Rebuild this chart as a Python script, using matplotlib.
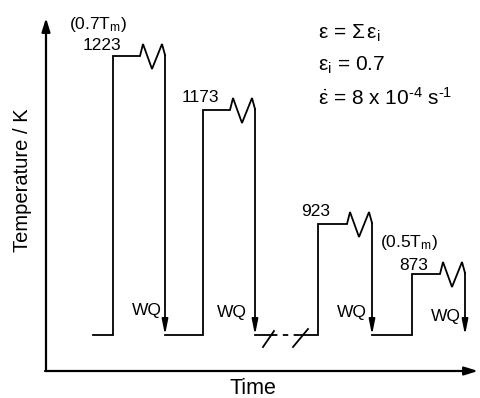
import matplotlib
matplotlib.use("Agg")
import matplotlib.pyplot as plt

plt.rcParams['font.family'] = ['Liberation Sans', 'DejaVu Sans']
plt.rcParams['mathtext.fontset'] = 'custom'
plt.rcParams['mathtext.rm'] = 'Liberation Sans'
plt.rcParams['mathtext.it'] = 'Liberation Sans:italic'

# ---- schematic data (time units, schematic temperature level) ----
temps = [1223, 1173, 923, 873]          # holding temperatures (K)
levels = [315, 261, 147, 97]            # schematic plateau heights
rise_t = [67, 157, 272, 366]            # time at which heating step occurs
hold_t = [27, 27, 29, 28]               # holding time before deformation
deform_dx = [0, 3, 12, 22, 25]          # zig-zag (deformation) time offsets
deform_dy = [0, 12, -13, 12, 1]         # zig-zag level offsets
base = 36                               # quench (room) temperature level
start_t = 47
break_t = [226, 254]                    # dashed time-break on baseline
homolog = ["(0.7T$_{\\mathregular{m}}$)", None, None, "(0.5T$_{\\mathregular{m}}$)"]

fig = plt.figure(figsize=(4.81, 3.98), dpi=100)
ax = fig.add_axes([0, 0, 1, 1])
ax.set_xlim(-46, 435)
ax.set_ylim(-27, 371)
ax.axis('off')

lw = 1.3
col = 'black'

# axes arrows
ax.annotate('', xy=(0, 353), xytext=(0, 0),
            arrowprops=dict(arrowstyle='-|>,head_length=0.8,head_width=0.25',
                            lw=1.6, color=col, shrinkA=0, shrinkB=0, mutation_scale=10))
ax.annotate('', xy=(432, 0), xytext=(-1, 0),
            arrowprops=dict(arrowstyle='-|>,head_length=0.8,head_width=0.25',
                            lw=1.6, color=col, shrinkA=0, shrinkB=0, mutation_scale=10))

prev_end = start_t
for i, (lev, rt, ht) in enumerate(zip(levels, rise_t, hold_t)):
    xs, ys = [], []
    if i == 2:
        # baseline with time break
        ax.plot([prev_end, break_t[0]], [base, base], color=col, lw=lw)
        ax.plot(break_t, [base, base], color=col, lw=lw, ls=(0, (3, 3)))
        xs += [break_t[1], rt]
        ys += [base, base]
        ax.plot([break_t[0] - 9, break_t[0] + 2], [base - 12, base + 4], color=col, lw=lw)
        ax.plot([break_t[1] - 7, break_t[1] + 8], [base - 12, base + 6], color=col, lw=lw)
    else:
        xs += [prev_end, rt]
        ys += [base, base]
    zx = rt + ht
    xs += [rt, zx]
    ys += [lev, lev]
    xs += [zx + d for d in deform_dx[1:]]
    ys += [lev + d for d in deform_dy[1:]]
    ax.plot(xs, ys, color=col, lw=lw, solid_joinstyle='miter')
    end_x = zx + deform_dx[-1]
    ax.annotate('', xy=(end_x, base), xytext=(end_x, lev + deform_dy[-1]),
                arrowprops=dict(arrowstyle='-|>,head_length=0.9,head_width=0.18',
                                lw=lw, color=col, shrinkA=0, shrinkB=0, mutation_scale=10))
    prev_end = end_x

# temperature labels
lab_pos = [(75, 326), (173, 273), (284, 159), (382, 106)]
for t, (lx, ly) in zip(temps, lab_pos):
    ax.text(lx, ly, str(t), fontsize=12.5, ha='right', va='center')
ax.text(52, 347, homolog[0], fontsize=12.5, ha='center', va='center')
ax.text(363, 128, homolog[3], fontsize=12.5, ha='center', va='center')

# WQ labels
wq_pos = [(101, 61), (186, 59), (306, 58), (400, 55)]
for wx, wy in wq_pos:
    ax.text(wx, wy, 'WQ', fontsize=12.5, ha='center', va='center')

# equations
ax.text(272, 338, "ε = Σ$\\,$ε$_{\\mathregular{i}}$", fontsize=15, ha='left', va='center')
ax.text(272, 306, "ε$_{\\mathregular{i}}$ = 0.7", fontsize=15, ha='left', va='center')
ax.text(272, 273, "$\\dot{\\mathrm{ε}}$ = 8 x 10$^{\\mathregular{\u2010}\\mathregular{4}}$ s$^{\\mathregular{\u2010}\\mathregular{1}}$",
        fontsize=15, ha='left', va='center')

# axis labels
ax.text(-24, 191, 'Temperature / K', fontsize=14.5, rotation=90, ha='center', va='center')
ax.text(207, -17, 'Time', fontsize=15.5, ha='center', va='center')

fig.savefig('out.png', dpi=100)
